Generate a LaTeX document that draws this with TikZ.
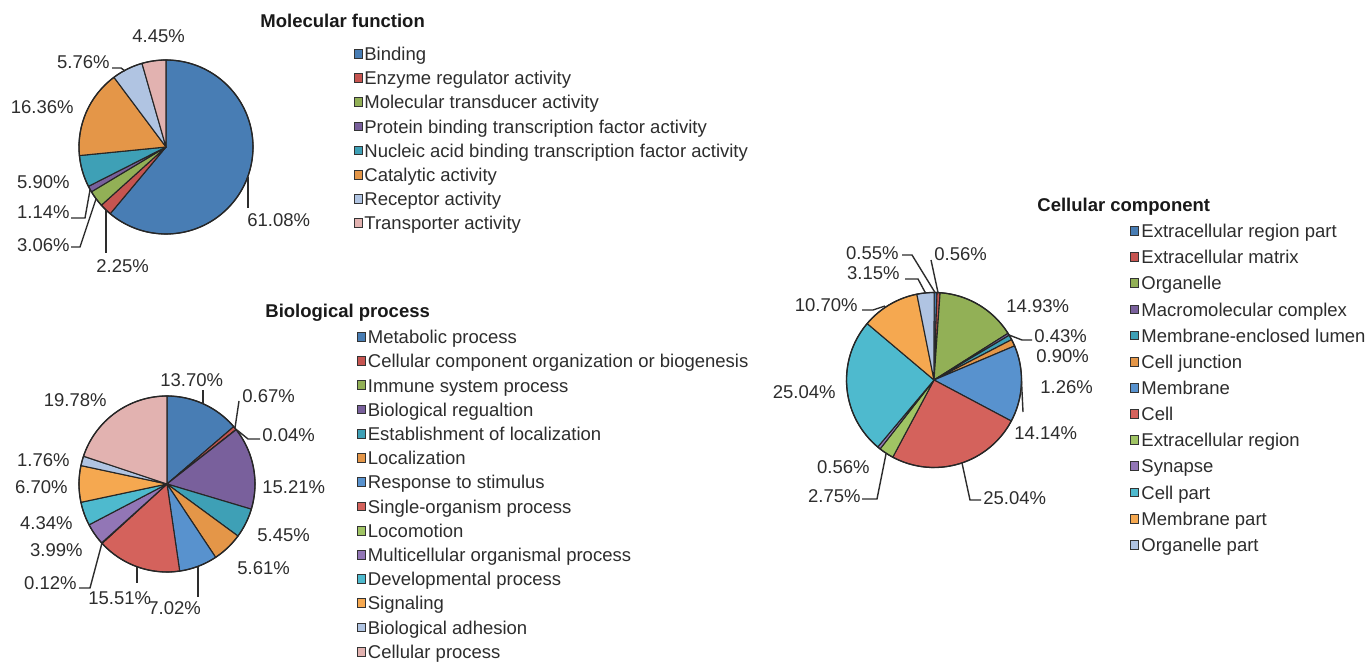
\documentclass[tikz,border=0pt]{standalone}
\usepackage{fontspec}
\setmainfont{Liberation Sans}
\definecolor{c1}{RGB}{72,125,180}
\definecolor{c2}{RGB}{198,84,80}
\definecolor{c3}{RGB}{146,176,86}
\definecolor{c4}{RGB}{121,96,156}
\definecolor{c5}{RGB}{62,160,182}
\definecolor{c6}{RGB}{228,150,72}
\definecolor{c7}{RGB}{88,146,206}
\definecolor{c8}{RGB}{212,98,92}
\definecolor{c9}{RGB}{160,196,100}
\definecolor{c10}{RGB}{146,118,182}
\definecolor{c11}{RGB}{78,186,206}
\definecolor{c12}{RGB}{245,168,80}
\definecolor{c13}{RGB}{176,196,226}
\definecolor{c14}{RGB}{226,178,176}
\definecolor{ink}{RGB}{45,45,45}
\tikzset{
  slice/.style={draw=black!85, line width=0.55pt, line join=round},
  rim/.style={draw=black!85, line width=0.65pt},
  lead/.style={draw=ink, line width=0.7pt},
  pct/.style={font=\fontsize{9.25}{11}\selectfont, text=ink, inner sep=0pt, text height=6.62pt, text depth=0pt},
  legtxt/.style={pct, anchor=west},
  ttl/.style={font=\fontsize{9.25}{11}\selectfont\bfseries, text=black!90, inner sep=0pt, text height=6.62pt, text depth=0pt, anchor=west},
  sq/.style={draw=black!80, line width=0.5pt, minimum size=4.4pt, inner sep=0pt},
}
\begin{document}
\begin{tikzpicture}[x=0.5pt,y=-0.5pt]
\fill[white] (0,0) rectangle (1370,662);
\path[use as bounding box] (0,0) rectangle (1370,662);

% ---------------- Molecular function ----------------
\coordinate (mfc) at (166,147);
\gdef\cum{0}
\foreach \v/\c in {61.08/c1,2.25/c2,3.06/c3,1.14/c4,5.90/c5,16.36/c6,5.76/c13,4.45/c14}{
  \pgfmathsetmacro\angA{\cum*3.6-90}
  \pgfmathsetmacro\angB{(\cum+\v)*3.6-90}
  \filldraw[slice, fill=\c] (mfc) -- ++(\angA:87) arc[start angle=\angA, end angle=\angB, radius=87] -- cycle;
  \pgfmathsetmacro\nc{\cum+\v}
  \xdef\cum{\nc}
}
\draw[rim] (mfc) circle[radius=87];

\node[pct, anchor=west] (mf445) at (132,36) {4.45\%};
\node[pct, anchor=east] (mf576) at (110,62) {5.76\%};
\node[pct, anchor=east] (mf1636) at (74,107) {16.36\%};
\node[pct, anchor=east] (mf590) at (70,182) {5.90\%};
\node[pct, anchor=east] (mf114) at (70,212) {1.14\%};
\node[pct, anchor=east] (mf306) at (70,245) {3.06\%};
\node[pct, anchor=west] (mf225) at (96,266) {2.25\%};
\node[pct, anchor=west] (mf6108) at (247,220) {61.08\%};

\coordinate (mfe61) at (248,177);  \coordinate (mfk61) at (248,208);
\coordinate (mfe225) at (106,210); \coordinate (mfk225) at (106,253);
\coordinate (mfe306) at (96,199);  \coordinate (mfb306) at (80,247); \coordinate (mfk306) at (71,247);
\coordinate (mfe114) at (90,190);  \coordinate (mfb114) at (85,218); \coordinate (mfk114) at (71,218);
\coordinate (mfe576) at (125,71);  \coordinate (mfb576) at (121,68); \coordinate (mfk576) at (112,68);
\draw[lead] (mfe61) -- (mfk61);
\draw[lead] (mfe225) -- (mfk225);
\draw[lead] (mfe306) -- (mfb306) -- (mfk306);
\draw[lead] (mfe114) -- (mfb114) -- (mfk114);
\draw[lead] (mfe576) -- (mfb576) -- (mfk576);

\node[ttl] (mft) at (260,21) {Molecular function};
\foreach \t/\c [count=\i] in {Binding/c1,Enzyme regulator activity/c2,Molecular transducer activity/c3,Protein binding transcription factor activity/c4,Nucleic acid binding transcription factor activity/c5,Catalytic activity/c6,Receptor activity/c13,Transporter activity/c14}{
  \node[sq, fill=\c] (mfs\i) at ({358.5},{54+(\i-1)*24.15}) {};
  \node[legtxt] (mfl\i) at ({364},{54+(\i-1)*24.15}) {\t};
}

% ---------------- Biological process ----------------
\coordinate (bpc) at (167,484);
\gdef\cum{0}
\foreach \v/\c in {13.70/c1,0.67/c2,0.04/c3,15.21/c4,5.45/c5,5.61/c6,7.02/c7,15.51/c8,0.12/c9,3.99/c10,4.34/c11,6.70/c12,1.76/c13,19.88/c14}{
  \pgfmathsetmacro\angA{\cum*3.6-90}
  \pgfmathsetmacro\angB{(\cum+\v)*3.6-90}
  \filldraw[slice, fill=\c] (bpc) -- ++(\angA:88) arc[start angle=\angA, end angle=\angB, radius=88] -- cycle;
  \pgfmathsetmacro\nc{\cum+\v}
  \xdef\cum{\nc}
}
\draw[rim] (bpc) circle[radius=88];

\node[pct, anchor=west] (bp1370) at (160,380) {13.70\%};
\node[pct, anchor=west] (bp067) at (242,396) {0.67\%};
\node[pct, anchor=west] (bp004) at (262,435) {0.04\%};
\node[pct, anchor=west] (bp1521) at (262,487) {15.21\%};
\node[pct, anchor=west] (bp545) at (257,535) {5.45\%};
\node[pct, anchor=west] (bp561) at (237,568) {5.61\%};
\node[pct, anchor=west] (bp702) at (148,608) {7.02\%};
\node[pct, anchor=west] (bp1551) at (88,598) {15.51\%};
\node[pct, anchor=east] (bp012) at (77,583) {0.12\%};
\node[pct, anchor=east] (bp399) at (83,550) {3.99\%};
\node[pct, anchor=east] (bp434) at (73,523) {4.34\%};
\node[pct, anchor=east] (bp670) at (68,487) {6.70\%};
\node[pct, anchor=east] (bp176) at (70,460) {1.76\%};
\node[pct, anchor=east] (bp1978) at (107,400) {19.78\%};

\coordinate (bpe1370) at (203,404); \coordinate (bpk1370) at (203,390);
\coordinate (bpe067) at (235,428);  \coordinate (bpk067) at (239,401);
\coordinate (bpe004) at (237,430);  \coordinate (bpb004) at (248,439); \coordinate (bpk004) at (260,439);
\coordinate (bpe702) at (198,567);  \coordinate (bpk702) at (198,597);
\coordinate (bpe1551) at (137,567); \coordinate (bpk1551) at (137,583);
\coordinate (bpe012) at (102,543);  \coordinate (bpb012) at (90,588); \coordinate (bpk012) at (79,588);
\draw[lead] (bpe1370) -- (bpk1370);
\draw[lead] (bpe067) -- (bpk067);
\draw[lead] (bpe004) -- (bpb004) -- (bpk004);
\draw[lead] (bpe702) -- (bpk702);
\draw[lead] (bpe1551) -- (bpk1551);
\draw[lead] (bpe012) -- (bpb012) -- (bpk012);

\node[ttl] (bpt) at (265,311) {Biological process};
\foreach \t/\c [count=\i] in {Metabolic process/c1,Cellular component organization or biogenesis/c2,Immune system process/c3,Biological regualtion/c4,Establishment of localization/c5,Localization/c6,Response to stimulus/c7,Single-organism process/c8,Locomotion/c9,Multicellular organismal process/c10,Developmental process/c11,Signaling/c12,Biological adhesion/c13,Cellular process/c14}{
  \node[sq, fill=\c] (bps\i) at ({361.5},{337+(\i-1)*24.2}) {};
  \node[legtxt] (bpl\i) at ({367.5},{337+(\i-1)*24.2}) {\t};
}

% ---------------- Cellular component ----------------
\coordinate (ccc) at (934,380);
\gdef\cum{0}
\foreach \v/\c in {0.55/c1,0.56/c2,14.93/c3,0.43/c4,0.90/c5,1.26/c6,14.14/c7,25.04/c8,2.75/c9,0.56/c10,25.04/c11,10.70/c12,3.15/c13}{
  \pgfmathsetmacro\angA{\cum*3.6-90}
  \pgfmathsetmacro\angB{(\cum+\v)*3.6-90}
  \filldraw[slice, fill=\c] (ccc) -- ++(\angA:87.5) arc[start angle=\angA, end angle=\angB, radius=87.5] -- cycle;
  \pgfmathsetmacro\nc{\cum+\v}
  \xdef\cum{\nc}
}
\draw[rim] (ccc) circle[radius=87.5];

\node[pct, anchor=east] (cc055) at (899,253) {0.55\%};
\node[pct, anchor=west] (cc056a) at (934,254) {0.56\%};
\node[pct, anchor=east] (cc315) at (900,273) {3.15\%};
\node[pct, anchor=east] (cc1070) at (858,305) {10.70\%};
\node[pct, anchor=west] (cc1493) at (1006,306) {14.93\%};
\node[pct, anchor=west] (cc043) at (1034,336) {0.43\%};
\node[pct, anchor=west] (cc090) at (1036,356) {0.90\%};
\node[pct, anchor=west] (cc126) at (1040,387) {1.26\%};
\node[pct, anchor=west] (cc1414) at (1014,433) {14.14\%};
\node[pct, anchor=east] (cc2504a) at (836,392) {25.04\%};
\node[pct, anchor=east] (cc056b) at (870,467) {0.56\%};
\node[pct, anchor=east] (cc275) at (861,496) {2.75\%};
\node[pct, anchor=west] (cc2504b) at (983,498) {25.04\%};

\coordinate (cce055) at (935,292.5); \coordinate (ccb055) at (912,255); \coordinate (cck055) at (902,255);
\coordinate (cce056) at (938,292.5); \coordinate (cck056) at (931,260);
\coordinate (cce315) at (925.5,293); \coordinate (ccb315) at (918,279); \coordinate (cck315) at (905,279);
\coordinate (cce1070) at (885,306); \coordinate (ccb1070) at (873,310); \coordinate (cck1070) at (862,310);
\coordinate (cce043) at (1009,335); \coordinate (ccb043) at (1022,340); \coordinate (cck043) at (1032,340);
\coordinate (cce1414) at (1021.5,381); \coordinate (cck1414) at (1023,412);
\coordinate (cce275) at (886,454); \coordinate (ccb275) at (877,499); \coordinate (cck275) at (862,499);
\coordinate (cce2504) at (962,463); \coordinate (ccb2504) at (970,500); \coordinate (cck2504) at (981,500);
\draw[lead] (cce055) -- (ccb055) -- (cck055);
\draw[lead] (cce056) -- (cck056);
\draw[lead] (cce315) -- (ccb315) -- (cck315);
\draw[lead] (cce1070) -- (ccb1070) -- (cck1070);
\draw[lead] (cce043) -- (ccb043) -- (cck043);
\draw[lead] (cce1414) -- (cck1414);
\draw[lead] (cce275) -- (ccb275) -- (cck275);
\draw[lead] (cce2504) -- (ccb2504) -- (cck2504);

\node[ttl] (cct) at (1037,205) {Cellular component};
\foreach \t/\c [count=\i] in {Extracellular region part/c1,Extracellular matrix/c2,Organelle/c3,Macromolecular complex/c4,Membrane-enclosed lumen/c5,Cell junction/c6,Membrane/c7,Cell/c8,Extracellular region/c9,Synapse/c10,Cell part/c11,Membrane part/c12,Organelle part/c13}{
  \node[sq, fill=\c] (ccs\i) at ({1134.5},{231+(\i-1)*26.15}) {};
  \node[legtxt] (ccl\i) at ({1141},{231+(\i-1)*26.15}) {\t};
}
\end{tikzpicture}
\end{document}
